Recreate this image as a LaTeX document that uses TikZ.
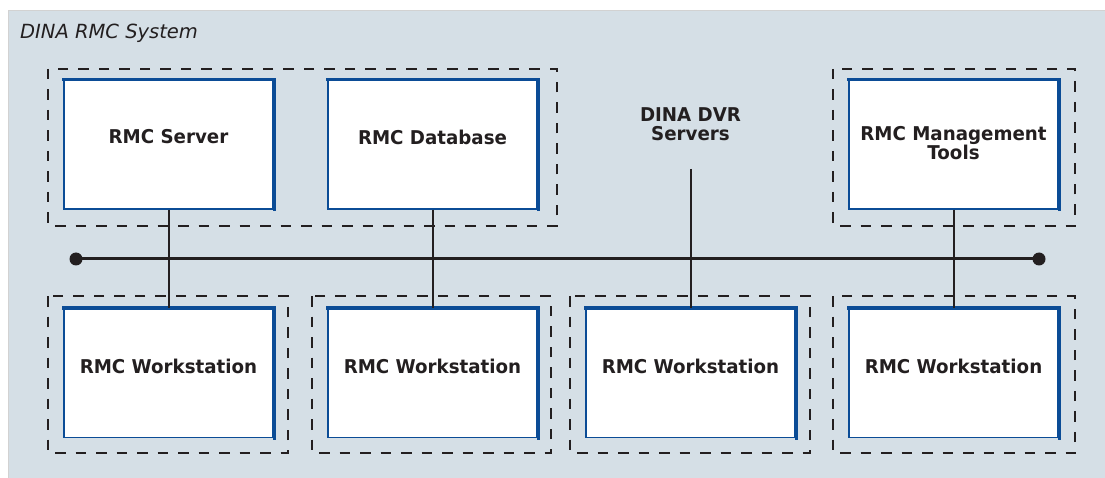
\documentclass[tikz,border=0pt]{standalone}
\usepackage{fontspec}
\setmainfont{DejaVu Sans}
\newfontfamily\labfont{DejaVu Sans}[FakeStretch=0.96]
\definecolor{panel}{HTML}{D5DFE6}
\definecolor{bblue}{HTML}{0B4C96}
\definecolor{ink}{HTML}{231F20}
\begin{document}
\begin{tikzpicture}[x=1pt,y=-1pt,
  box/.style={draw=bblue,line width=1.3pt,fill=white,minimum width=209pt,minimum height=129pt,inner sep=0pt},
  lab/.style={font=\labfont\fontsize{19}{21}\selectfont\bfseries,text=ink,align=center,inner sep=0pt},
  grp/.style={draw=ink,line width=2pt,dash pattern=on 10.5pt off 10pt},
  edge/.style={draw=bblue,line width=3.2pt},
  wire/.style={draw=ink,line width=2pt},
  bus/.style={draw=ink,line width=3pt}]
\useasboundingbox (0,0) rectangle (1105,478);
\fill[white] (0,0) rectangle (1105,478);
\fill[panel] (8,10) rectangle (1105,478);
\draw[draw=gray!35,line width=0.8pt] (1106,10) -- (8,10) -- (8,479);
\node[anchor=base west,font=\fontsize{19.5}{22}\selectfont\itshape,text=ink,inner sep=0pt] (title) at (20,38.5) {DINA RMC System};
% groups
\draw[grp] (48,69) rectangle (557,226);
\draw[grp] (833,69) rectangle (1075,226);
\draw[grp] (48,296) rectangle (288,453);
\draw[grp] (312,296) rectangle (551,453);
\draw[grp] (570,296) rectangle (810,453);
\draw[grp] (833,296) rectangle (1075,453);
% boxes
\node[box] (srv) at (168.5,144.5) {};
\node[box] (db) at (432.5,144.5) {};
\node[box] (mgt) at (953.5,144.5) {};
\node[box] (ws1) at (168.5,373) {};
\node[box] (ws2) at (432.5,373) {};
\node[box] (ws3) at (690.5,373) {};
\node[box] (ws4) at (953.5,373) {};
\foreach \n in {srv,db,mgt,ws1,ws2,ws3,ws4}{
  \draw[edge,line cap=rect] ([xshift=0.7pt,yshift=-0.2pt]\n.north west) -- ([xshift=1.2pt,yshift=-0.2pt]\n.north east) -- ([xshift=1.2pt]\n.south east);
}
\node[lab] (tsrv) at (168.5,137) {RMC Server};
\node[lab] (tdb) at (432.5,137) {RMC Database};
\node[lab] (tmgt) at (953.5,143) {RMC Management\\[-2pt]Tools};
\node[lab] (tws1) at (168.5,366) {RMC Workstation};
\node[lab] (tws2) at (432.5,366) {RMC Workstation};
\node[lab] (tws3) at (690.5,366) {RMC Workstation};
\node[lab] (tws4) at (953.5,366) {RMC Workstation};
\node[lab] (dvr) at (690.5,124.5) {DINA DVR\\[-2pt]Servers};
\coordinate (dvrtop) at (690.5,169);
% bus
\coordinate (busL) at (76,259);
\coordinate (busR) at (1039,259);
\draw[bus] (busL) -- (busR);
\fill[ink] (busL) circle (6.5pt);
\fill[ink] (busR) circle (6.5pt);
% connectors
\draw[wire] (srv) -- (ws1);
\draw[wire] (db) -- (ws2);
\draw[wire] (dvrtop) -- (ws3);
\draw[wire] (mgt) -- (ws4);
\end{tikzpicture}
\end{document}
